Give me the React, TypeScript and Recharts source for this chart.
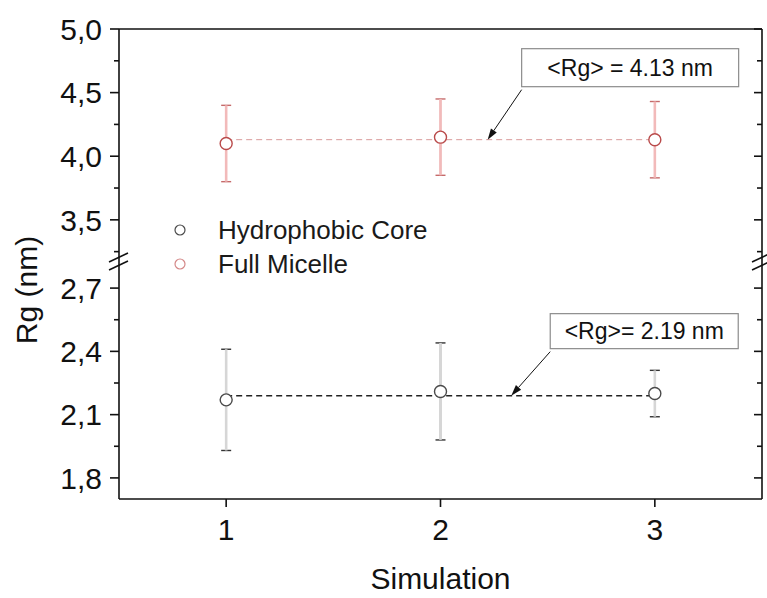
import React from 'react'
import {
  ScatterChart,
  Scatter,
  XAxis,
  YAxis,
  ErrorBar,
  ReferenceLine,
  ReferenceDot,
  Legend,
} from 'recharts'

const W = 767
const H = 598
const FONT = '"Liberation Sans", Arial, Helvetica, sans-serif'

// frame layout (two stacked panels share one frame, with a break between them)
const LEFT = 119
const RIGHT = 762
const TOP = 29
const UPPER_BOTTOM = 258
const LOWER_TOP = 267
const BOTTOM = 499

const simulations = [1, 2, 3]
const coreRg = [2.17, 2.21, 2.2]
const coreErr = [0.24, 0.23, 0.11]
const micelleRg = [4.1, 4.15, 4.13]
const micelleErr = [0.3, 0.3, 0.3]
const coreMean = 2.19
const micelleMean = 4.13

const xDomain = [0.5, 3.5]
const xTicks = [1, 2, 3]
const upperDomain = [3.2, 5.0]
const upperMajor = [3.5, 4.0, 4.5, 5.0]
const upperMinor = [3.25, 3.75, 4.25, 4.75]
const lowerDomain = [1.7, 2.8]
const lowerMajor = [1.8, 2.1, 2.4, 2.7]
const lowerMinor = [1.95, 2.25, 2.55]
const seriesNames = ['Hydrophobic Core', 'Full Micelle']

const AXIS = '#111'
const CORE = '#4a4a4a'
const MICELLE = '#b94a4a'

const coreData = simulations.map((s, i) => ({ x: s, y: coreRg[i], err: coreErr[i] }))
const micelleData = simulations.map((s, i) => ({ x: s, y: micelleRg[i], err: micelleErr[i] }))

const fmt = (v: number) => v.toFixed(1).replace('.', ',')

const leftTick = (majors: number[]) => (p: any) => {
  const major = majors.includes(p.payload.value)
  return (
    <g>
      <line x1={p.x - (major ? 9 : 5)} x2={p.x} y1={p.y} y2={p.y} stroke={AXIS} strokeWidth={1.6} />
      {major && (
        <text x={p.x - 17} y={p.y} dy="0.36em" textAnchor="end" fontSize={30} fontFamily={FONT} fill="#111">
          {fmt(p.payload.value)}
        </text>
      )}
    </g>
  )
}

const rightTick = (majors: number[]) => (p: any) => {
  const major = majors.includes(p.payload.value)
  return <line x1={p.x - (major ? 8 : 5)} x2={p.x} y1={p.y} y2={p.y} stroke={AXIS} strokeWidth={1.6} />
}

const topTick = (p: any) => (
  <line x1={p.x} x2={p.x} y1={p.y} y2={p.y + 8} stroke={AXIS} strokeWidth={1.6} />
)

const bottomTick = (p: any) => (
  <g>
    <line x1={p.x} x2={p.x} y1={p.y} y2={p.y + 8} stroke={AXIS} strokeWidth={1.6} />
    <text x={p.x} y={p.y + 41} textAnchor="middle" fontSize={30} fontFamily={FONT} fill="#111">
      {p.payload.value}
    </text>
  </g>
)

const dot = (color: string) => (p: any) => (
  <circle cx={p.cx} cy={p.cy} r={6} fill="#fff" stroke={color} strokeWidth={1.4} />
)

// boxed label with an arrow pointing at the mean line
const callout = (text: string, dx: number, dy: number, w: number, h: number) => (p: any) => {
  const sx = p.cx + dx
  const sy = p.cy + dy + 3
  const ang = Math.atan2(p.cy - sy, p.cx - sx)
  const len = 11
  const hw = 3.5
  const bx = p.cx - len * Math.cos(ang)
  const by = p.cy - len * Math.sin(ang)
  const nx = -Math.sin(ang) * hw
  const ny = Math.cos(ang) * hw
  return (
    <g>
      <line x1={sx} y1={sy} x2={bx} y2={by} stroke="#111" strokeWidth={1} />
      <polygon points={`${p.cx},${p.cy} ${bx + nx},${by + ny} ${bx - nx},${by - ny}`} fill="#111" />
      <rect x={p.cx + dx} y={p.cy + dy - h} width={w} height={h} fill="#fff" stroke="#8c8c8c" strokeWidth={1.2} />
      <text x={p.cx + dx + w / 2} y={p.cy + dy - h / 2} dy="0.36em" textAnchor="middle" fontSize={23} fontFamily={FONT} fill="#111">
        {text}
      </text>
    </g>
  )
}

const legendContent = () => (
  <div style={{ fontFamily: FONT, fontSize: 26, color: '#1a1a1a' }}>
    {seriesNames.map((n, i) => (
      <div key={n} style={{ display: 'flex', alignItems: 'center', height: 34 }}>
        <svg width={40} height={34}>
          <circle cx={15} cy={17} r={5} fill="#fff" stroke={i === 0 ? CORE : '#d48888'} strokeWidth={1.2} />
        </svg>
        <span style={{ marginLeft: 13, whiteSpace: 'nowrap' }}>{n}</span>
      </div>
    ))}
  </div>
)

const layer: React.CSSProperties = { position: 'absolute', left: 0, top: 0 }

export default function App() {
  return (
    <div style={{ position: 'relative', width: W, height: H, background: '#fff' }}>
      <style>{'body{margin:0}'}</style>

      {/* upper panel: full micelle */}
      <div style={layer}>
        <ScatterChart width={W} height={H} margin={{ top: 0, right: 0, bottom: H - UPPER_BOTTOM, left: 0 }}>
          <XAxis dataKey="x" type="number" domain={xDomain} hide allowDataOverflow />
          <XAxis
            xAxisId="top"
            orientation="top"
            type="number"
            domain={xDomain}
            ticks={xTicks}
            height={TOP}
            tickSize={0}
            tickMargin={0}
            tick={topTick}
            axisLine={{ stroke: AXIS, strokeWidth: 1.6 }}
            tickLine={false}
            interval={0}
          />
          <YAxis
            dataKey="y"
            type="number"
            domain={upperDomain}
            ticks={[...upperMinor, ...upperMajor].sort((a, b) => a - b)}
            width={LEFT}
            tickSize={0}
            tickMargin={0}
            tick={leftTick(upperMajor)}
            axisLine={{ stroke: AXIS, strokeWidth: 1.6 }}
            tickLine={false}
            interval={0}
            allowDataOverflow
          />
          <YAxis
            yAxisId="r"
            orientation="right"
            type="number"
            domain={upperDomain}
            ticks={[...upperMinor, ...upperMajor].sort((a, b) => a - b)}
            width={W - RIGHT}
            tickSize={0}
            tickMargin={0}
            tick={rightTick(upperMajor)}
            axisLine={{ stroke: AXIS, strokeWidth: 1.6 }}
            tickLine={false}
            interval={0}
            allowDataOverflow
          />
          <ReferenceLine
            segment={[{ x: simulations[0], y: micelleMean }, { x: simulations[2], y: micelleMean }]}
            stroke="#d99a9a"
            strokeWidth={1}
            strokeDasharray="6 4"
          />
          <Scatter data={micelleData} name={seriesNames[1]} shape={dot(MICELLE)} isAnimationActive={false}>
            {/* dark caps first, then a pale stem drawn over the dark one */}
            <ErrorBar dataKey="err" direction="y" width={5} stroke="#c56a6a" strokeWidth={1.4} isAnimationActive={false} />
            <ErrorBar dataKey="err" direction="y" width={0} stroke="#f2baba" strokeWidth={2.6} isAnimationActive={false} />
          </Scatter>
          <ReferenceDot x={2.22} y={micelleMean} r={0} shape={callout('<Rg> = 4.13 nm', 34, -53, 217, 38)} />
          <Legend
            layout="horizontal"
            verticalAlign="middle"
            align="center"
            content={legendContent}
            wrapperStyle={{ left: 165, top: 213, width: 320, height: 68 }}
          />
        </ScatterChart>
      </div>

      {/* lower panel: hydrophobic core */}
      <div style={layer}>
        <ScatterChart width={W} height={H} margin={{ top: LOWER_TOP, right: 0, bottom: 0, left: 0 }}>
          <XAxis
            dataKey="x"
            type="number"
            domain={xDomain}
            ticks={xTicks}
            height={H - BOTTOM}
            tickSize={0}
            tickMargin={0}
            tick={bottomTick}
            axisLine={{ stroke: AXIS, strokeWidth: 1.6 }}
            tickLine={false}
            interval={0}
            allowDataOverflow
            label={{
              content: () => (
                <text x={(LEFT + RIGHT) / 2} y={589} textAnchor="middle" fontSize={30} fontFamily={FONT} fill="#111">
                  Simulation
                </text>
              ),
            }}
          />
          <YAxis
            dataKey="y"
            type="number"
            domain={lowerDomain}
            ticks={[...lowerMinor, ...lowerMajor].sort((a, b) => a - b)}
            width={LEFT}
            tickSize={0}
            tickMargin={0}
            tick={leftTick(lowerMajor)}
            axisLine={{ stroke: AXIS, strokeWidth: 1.6 }}
            tickLine={false}
            interval={0}
            allowDataOverflow
            label={{
              content: () => (
                <text
                  x={26}
                  y={290}
                  transform="rotate(-90 26 290)"
                  dy="0.36em"
                  textAnchor="middle"
                  fontSize={30}
                  fontFamily={FONT}
                  fill="#111"
                >
                  Rg (nm)
                </text>
              ),
            }}
          />
          <YAxis
            yAxisId="r"
            orientation="right"
            type="number"
            domain={lowerDomain}
            ticks={[...lowerMinor, ...lowerMajor].sort((a, b) => a - b)}
            width={W - RIGHT}
            tickSize={0}
            tickMargin={0}
            tick={rightTick(lowerMajor)}
            axisLine={{ stroke: AXIS, strokeWidth: 1.6 }}
            tickLine={false}
            interval={0}
            allowDataOverflow
          />
          <ReferenceLine
            segment={[{ x: simulations[0], y: coreMean }, { x: simulations[2], y: coreMean }]}
            stroke="#222"
            strokeWidth={1.5}
            strokeDasharray="6 4"
          />
          <Scatter data={coreData} name={seriesNames[0]} shape={dot(CORE)} isAnimationActive={false}>
            <ErrorBar dataKey="err" direction="y" width={5} stroke="#333" strokeWidth={1.4} isAnimationActive={false} />
            <ErrorBar dataKey="err" direction="y" width={0} stroke="#d6d6d6" strokeWidth={2.6} isAnimationActive={false} />
          </Scatter>
          <ReferenceDot x={2.33} y={coreMean} r={0} shape={callout('<Rg>= 2.19 nm', 39, -47, 188, 35)} />
        </ScatterChart>
      </div>

      {/* axis break marks joining the two panels */}
      <svg width={W} height={H} style={{ ...layer, pointerEvents: 'none' }}>
        {[LEFT, RIGHT].map((ax) => (
          <g key={ax} stroke={AXIS} strokeWidth={1.6}>
            <line x1={ax} x2={ax} y1={UPPER_BOTTOM} y2={LOWER_TOP} />
            <line x1={ax - 10} y1={262} x2={ax + 9} y2={253} />
            <line x1={ax - 10} y1={270} x2={ax + 9} y2={261} />
          </g>
        ))}
      </svg>
    </div>
  )
}
